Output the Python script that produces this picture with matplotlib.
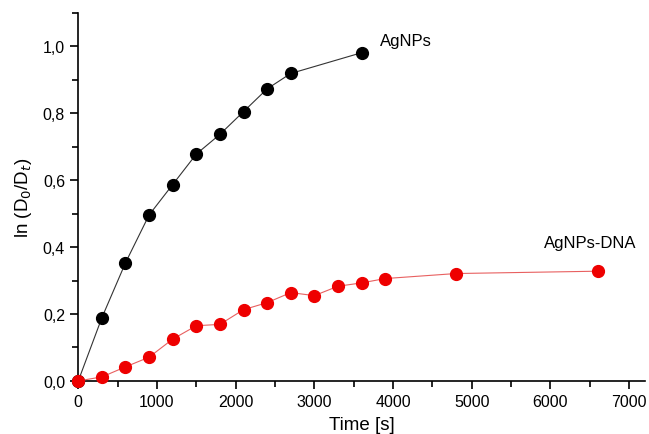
import matplotlib.pyplot as plt
from matplotlib.ticker import MultipleLocator, FuncFormatter

plt.rcParams['font.family'] = ['Liberation Sans', 'DejaVu Sans']

# AgNPs
t_ag = [0, 300, 600, 900, 1200, 1500, 1800, 2100, 2400, 2700, 3600]
ln_ag = [0.0, 0.189, 0.353, 0.496, 0.587, 0.678, 0.737, 0.805, 0.873, 0.919, 0.981]

# AgNPs-DNA
t_dna = [0, 300, 600, 900, 1200, 1500, 1800, 2100, 2400, 2700, 3000, 3300,
         3600, 3900, 4800, 6600]
ln_dna = [0.0, 0.012, 0.042, 0.071, 0.125, 0.165, 0.169, 0.213, 0.234, 0.264,
          0.255, 0.283, 0.293, 0.306, 0.321, 0.328]

fig = plt.figure(figsize=(6.49, 4.35), dpi=100)
ax = fig.add_axes([0.1206, 0.122, 0.873, 0.846])

ax.plot(t_ag, ln_ag, color='#333333', lw=0.8, marker='o', ms=8.5,
        mfc='black', mec='black', clip_on=False, zorder=3)
ax.plot(t_dna, ln_dna, color='#e86060', lw=0.8, marker='o', ms=8.5,
        mfc='#ee0000', mec='#ee0000', clip_on=False, zorder=3)

ax.text(3830, 1.018, 'AgNPs', fontsize=12, va='center', ha='left')
ax.text(5920, 0.414, 'AgNPs-DNA', fontsize=12, va='center', ha='left')

ax.set_xlim(0, 7200)
ax.set_ylim(0, 1.1)
ax.xaxis.set_major_locator(MultipleLocator(1000))
ax.xaxis.set_minor_locator(MultipleLocator(500))
ax.yaxis.set_major_locator(MultipleLocator(0.2))
ax.yaxis.set_minor_locator(MultipleLocator(0.1))
ax.yaxis.set_major_formatter(FuncFormatter(lambda v, p: f'{v:.1f}'.replace('.', ',')))

for s in ['top', 'right']:
    ax.spines[s].set_visible(False)
for s in ['left', 'bottom']:
    ax.spines[s].set_linewidth(1.2)
ax.tick_params(which='major', direction='out', length=6, width=1.2, labelsize=11.5)
ax.tick_params(which='minor', direction='out', length=4, width=1.2)

ax.set_xlabel('Time [s]', fontsize=13.5, labelpad=5)
ax.set_ylabel('ln (D$_0$/D$_t$)', fontsize=13.5, labelpad=6)

fig.savefig('out.png', dpi=100)
